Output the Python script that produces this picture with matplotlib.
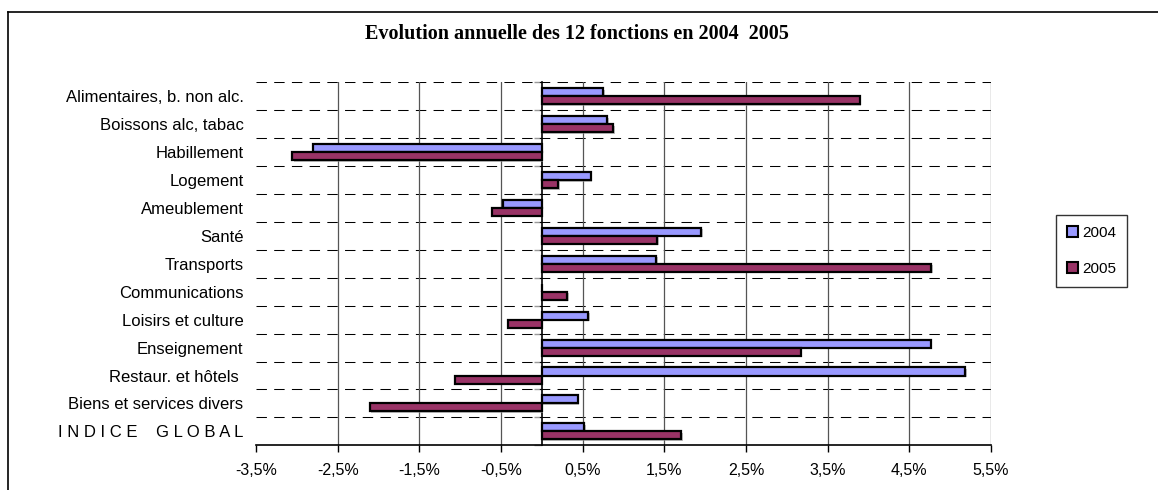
import numpy as np
import matplotlib
matplotlib.use("Agg")
import matplotlib.pyplot as plt
from matplotlib.lines import Line2D
from matplotlib.patches import Patch
import matplotlib.patheffects as pe

categories = [
    "Alimentaires, b. non alc.",
    "Boissons alc, tabac",
    "Habillement",
    "Logement",
    "Ameublement",
    "Santé",
    "Transports",
    "Communications",
    "Loisirs et culture",
    "Enseignement",
    "Restaur. et hôtels ",
    "Biens et services divers",
    "I N D I C E    G L O B A L",
]
v2004 = [0.75, 0.80, -2.80, 0.60, -0.47, 1.95, 1.40, 0.00, 0.57, 4.76, 5.18, 0.44, 0.52]
v2005 = [3.89, 0.87, -3.06, 0.20, -0.61, 1.41, 4.77, 0.31, -0.42, 3.17, -1.06, -2.11, 1.71]
xticks = [-3.5, -2.5, -1.5, -0.5, 0.5, 1.5, 2.5, 3.5, 4.5, 5.5]
series_names = ["2004", "2005"]
title = "Evolution annuelle des 12 fonctions en 2004  2005"

c2004 = "#9999FF"
c2005 = "#993366"

W, H = 1158, 490
fig = plt.figure(figsize=(W / 100, H / 100), dpi=100)
fig.patch.set_facecolor("white")

ax = fig.add_axes([256 / W, 1 - 445.4 / H, (991 - 256) / W, (445.4 - 82) / H])

y = np.arange(len(categories))
bh = 0.287
shadow = [pe.SimplePatchShadow(offset=(1.2, -1.2), shadow_rgbFace="#999999", alpha=0.6), pe.Normal()]
b1 = ax.barh(y - bh / 2, v2004, height=bh, color=c2004, edgecolor="black", linewidth=1.6, zorder=3)
b2 = ax.barh(y + bh / 2, v2005, height=bh, color=c2005, edgecolor="black", linewidth=1.6, zorder=3)
for b in list(b1) + list(b2):
    b.set_path_effects(shadow)

ax.set_xlim(-3.5, 5.5)
ax.set_ylim(len(categories) - 0.5, -0.5)

ax.set_xticks(xticks)
ax.set_xticklabels([("%.1f%%" % t).replace(".", ",") for t in xticks], fontsize=11.5,
                   family="Liberation Sans")
ax.tick_params(axis="x", direction="out", length=5, width=1, color="black", pad=8)

ax.set_yticks(y)
ax.set_yticklabels(categories, fontsize=12, family="Liberation Sans")
ax.tick_params(axis="y", length=0, pad=9)

# vertical gridlines
ax.grid(axis="x", color="#555555", linewidth=0.9, zorder=0)
ax.xaxis.get_gridlines()[0].set_visible(False)

# category boundaries (dashed)
for yb in np.arange(len(categories)) - 0.5:
    ax.axhline(yb, color="black", linewidth=0.75, linestyle=(0, (10, 7)), zorder=1)

for s in ["top", "right", "left"]:
    ax.spines[s].set_visible(False)
ax.spines["bottom"].set_linewidth(1.2)
ax.spines["bottom"].set_zorder(5)

# category axis at zero
sec = ax.secondary_yaxis(3.5 / 9)
sec.set_yticks(np.arange(len(categories) + 1) - 0.5)
sec.set_yticklabels([])
sec.tick_params(axis="y", direction="out", length=6, width=1, color="#999999")
sec.spines["left"].set_color("black")
sec.spines["left"].set_linewidth(1.2)

# title
fig.text(577 / W, 1 - 34 / H, title, ha="center", va="center", fontsize=14.5,
         fontweight="bold", family="Liberation Serif")

# legend
handles = [Patch(facecolor=c2004, edgecolor="black", linewidth=1.5),
           Patch(facecolor=c2005, edgecolor="black", linewidth=1.5)]
leg = fig.legend(handles, series_names, loc="upper left",
                 bbox_to_anchor=(1056 / W, 1 - 215 / H),
                 prop={"family": "Liberation Sans", "size": 11},
                 frameon=True, fancybox=False, edgecolor="black",
                 borderpad=0.7, labelspacing=1.45, handlelength=0.75,
                 handleheight=0.7, handletextpad=0.3, borderaxespad=0)
leg.get_frame().set_linewidth(1.0)

# outer chart border (top and left visible)
fig.add_artist(Line2D([8 / W, 8 / W], [0, 1 - 12 / H], color="black", linewidth=1.2,
                      transform=fig.transFigure))
fig.add_artist(Line2D([8 / W, 1], [1 - 12 / H, 1 - 12 / H], color="black", linewidth=1.2,
                      transform=fig.transFigure))

fig.savefig("out.png", dpi=100)
